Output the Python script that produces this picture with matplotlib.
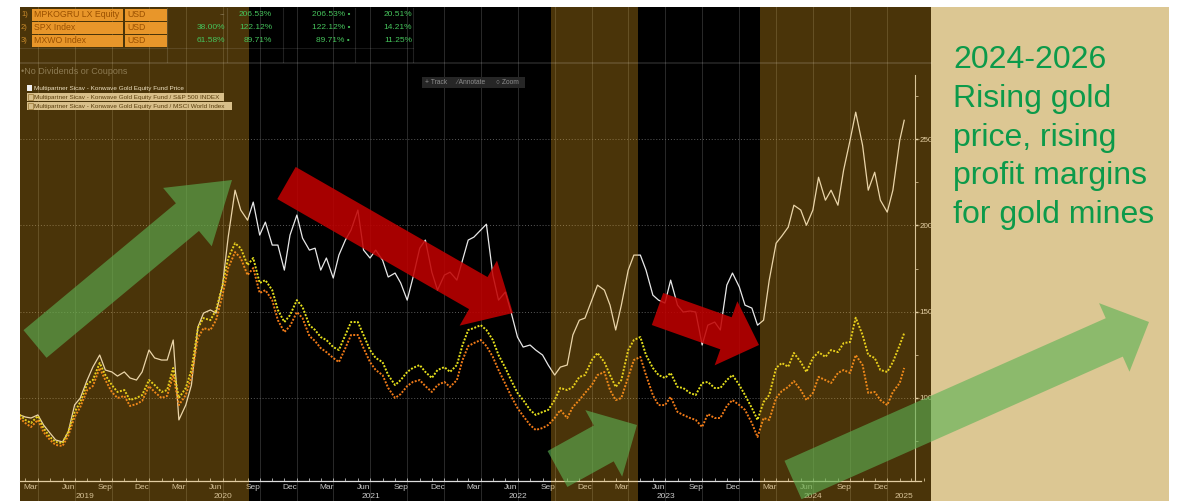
import matplotlib
matplotlib.use('Agg')
import matplotlib.pyplot as plt
import matplotlib.dates as mdates
from matplotlib.patches import Rectangle, FancyArrow
import pandas as pd

# semi-monthly sampling
dates = list(pd.date_range('2019-02-15', '2025-02-01', freq='SMS')) + [pd.Timestamp('2025-02-12')]

fund_price = [
    90.2,
    89.0, 88.4, 90.2, 84.4, 79.7, 75.7, 74.5, 80.3, 96.0, 100.0,
    110.4, 117.9, 124.9, 116.2, 115.1, 112.7, 115.1, 111.6, 110.4, 115.1,
    127.8, 123.2, 122.0, 122.0, 133.6, 87.3, 95.9, 107.5, 141.1, 149.2,
    151.0, 149.2, 165.4, 193.2, 220.4, 208.9, 203.0, 213.5, 194.4, 201.9,
    188.6, 188.6, 174.1, 194.4, 206.0, 192.6, 185.7, 186.8, 174.1, 181.1,
    169.5, 182.8, 191.5, 197.3, 208.9, 185.7, 181.1, 185.7, 179.9, 170.1,
    172.4, 166.6, 156.7, 169.5, 186.8, 191.5, 172.9, 162.5, 171.2, 172.9,
    168.3, 179.9, 191.5, 193.2, 197.3, 200.7, 171.2, 156.7, 161.4, 149.8,
    135.3, 129.5, 130.7, 127.8, 124.9, 119.1, 113.3, 117.9, 119.1, 136.5,
    145.1, 146.3, 156.7, 165.4, 162.5, 153.8, 139.4, 153.8, 174.1, 182.8,
    182.8, 174.1, 159.6, 156.7, 155.0, 168.3, 153.8, 149.8, 150.4, 149.8,
    130.7, 142.2, 144.0, 139.4, 165.4, 172.4, 164.3, 153.8, 152.1, 142.2,
    145.1, 168.3, 189.7, 193.8, 199.0, 211.7, 208.9, 200.1, 208.9, 227.9,
    214.6, 220.4, 211.7, 232.0, 249.3, 265.6, 246.4, 220.4, 230.8, 214.6,
    207.7, 220.4, 249.3, 260.9,
]

fund_vs_spx = [
    90.2,
    87.3, 85.5, 89.6, 82.6, 77.4, 74.5, 73.9, 80.3, 91.9, 97.7,
    108.1, 110.4, 120.3, 113.3, 107.5, 103.5, 104.6, 98.8, 100.0, 101.7,
    110.4, 107.5, 103.5, 104.6, 117.4, 100.0, 105.8, 116.2, 140.5, 146.3,
    145.1, 151.0, 165.4, 181.1, 189.7, 186.8, 177.0, 181.1, 166.6, 168.3,
    162.5, 151.0, 144.0, 148.0, 156.7, 152.7, 142.2, 139.4, 135.3, 133.6,
    129.5, 127.8, 136.5, 144.0, 144.0, 136.5, 127.8, 123.2, 120.8, 113.3,
    107.5, 110.4, 115.1, 117.4, 119.1, 115.1, 111.6, 116.2, 117.9, 115.1,
    119.1, 130.7, 139.4, 140.5, 142.2, 139.4, 133.6, 124.9, 117.4, 110.4,
    102.9, 98.8, 93.1, 90.2, 91.9, 93.1, 98.8, 105.8, 104.6, 106.4,
    112.2, 113.3, 122.0, 126.1, 120.8, 113.3, 106.4, 110.4, 127.8, 133.6,
    135.3, 124.9, 117.4, 113.3, 111.6, 114.5, 106.4, 105.8, 102.9, 101.7,
    108.7, 109.3, 105.8, 105.8, 110.4, 113.3, 107.5, 101.7, 94.2, 87.3,
    97.7, 101.7, 117.4, 120.3, 118.1, 126.1, 120.8, 115.1, 123.2, 126.6,
    123.8, 127.8, 126.6, 131.8, 132.4, 146.5, 136.5, 124.9, 123.2, 116.2,
    115.1, 120.8, 130.7, 137.6,
]

fund_vs_mxwo = [
    88.4,
    85.5, 83.2, 87.3, 80.3, 75.7, 72.8, 72.2, 78.0, 89.0, 94.8,
    104.6, 106.9, 117.4, 110.4, 103.5, 100.0, 101.2, 95.4, 96.5, 98.3,
    106.9, 103.5, 100.0, 101.2, 113.3, 95.9, 101.7, 112.2, 134.7, 140.5,
    139.4, 145.1, 159.6, 175.3, 184.5, 181.1, 171.2, 175.3, 160.8, 162.5,
    156.7, 145.1, 138.2, 141.7, 149.8, 146.3, 135.9, 133.0, 128.9, 126.6,
    123.2, 120.8, 128.9, 136.5, 136.5, 128.9, 120.8, 116.2, 113.3, 105.8,
    100.0, 102.3, 106.9, 109.3, 110.4, 106.9, 103.5, 107.5, 109.3, 106.4,
    110.4, 122.0, 130.1, 131.8, 133.6, 130.1, 123.8, 116.2, 108.1, 101.2,
    94.2, 89.6, 84.4, 81.5, 82.6, 84.4, 88.4, 93.1, 88.4, 94.8,
    98.8, 102.9, 107.5, 113.3, 115.1, 104.6, 98.8, 100.0, 112.2, 122.0,
    123.8, 113.3, 101.7, 95.9, 95.9, 100.6, 91.9, 90.2, 88.4, 87.3,
    83.2, 90.7, 88.4, 88.4, 95.4, 98.8, 95.9, 93.1, 85.5, 77.4,
    88.4, 87.3, 100.0, 104.0, 106.4, 109.8, 104.6, 98.8, 102.9, 112.2,
    110.4, 108.7, 114.5, 116.2, 114.5, 124.9, 119.1, 102.9, 103.5, 98.8,
    95.9, 103.5, 108.7, 117.4,
]

# highlighted periods (brown shading)
bands = [('2019-01-01', '2020-09-04'), ('2022-09-21', '2023-04-25'), ('2024-02-22', '2025-06-01')]

table_names = ['MPKOGRU LX Equity', 'SPX Index', 'MXWO Index']
table_ccy = ['USD', 'USD', 'USD']
table_col1 = ['--', '38.00%', '61.58%']
table_col2 = ['206.53%', '122.12%', '89.71%']
table_col3 = ['206.53%', '122.12%', '89.71%']
table_col4 = ['20.51%', '14.21%', '11.25%']

legend_labels = ['Multipartner Sicav - Konwave Gold Equity Fund Price',
                 'Multipartner Sicav - Konwave Gold Equity Fund / S&P 500 INDEX',
                 'Multipartner Sicav - Konwave Gold Equity Fund / MSCI World Index']

note_lines = ['2024-2026', 'Rising gold', 'price, rising', 'profit margins', 'for gold mines']

plt.rcParams['font.family'] = ['Liberation Sans', 'DejaVu Sans']

W, H = 1178, 501
fig = plt.figure(figsize=(W / 100, H / 100), dpi=100, facecolor='white')


def box(x0, y0, x1, y1):
    return [x0 / W, 1 - y1 / H, (x1 - x0) / W, (y1 - y0) / H]


ax = fig.add_axes(box(20, 7, 931, 501))
ax.set_facecolor('black')

ax.plot(dates, fund_price, color='#e8e8e8', lw=0.9, zorder=2)
ax.plot(dates, fund_vs_mxwo, color='#f07a18', lw=1.4, ls=(0, (1, 0.8)), zorder=2)
ax.plot(dates, fund_vs_spx, color='#e6e01c', lw=1.4, ls=(0, (1, 0.8)), zorder=2)

for a, b in bands:
    ax.axvspan(pd.Timestamp(a), pd.Timestamp(b), color='#f0aa1e', alpha=0.31, lw=0, zorder=3)

for d in pd.date_range('2019-04-01', '2025-01-01', freq='QS'):
    ax.axvline(d, color='#2a2a2a', lw=0.7, zorder=1)

# axis scaling
t0 = mdates.date2num(pd.Timestamp('2019-03-15'))
dpp = 30.44 / 12.3
vpp = 50 / 86.3
x_left, x_right = t0 - 11 * dpp, t0 + 890 * dpp
ax.set_xlim(x_left, t0 + 900 * dpp)
ax.set_ylim(100 - 103 * vpp, 100 + 391 * vpp)

ax.spines['left'].set_visible(False)
ax.spines['top'].set_visible(False)
ax.spines['right'].set_position(('axes', 895 / 911))
ax.spines['right'].set_bounds(52, 287)
ax.spines['right'].set_color('#cfcfcf')
ax.spines['right'].set_linewidth(0.8)
ax.spines['bottom'].set_position(('data', 52))
ax.spines['bottom'].set_bounds(x_left, x_right)
ax.spines['bottom'].set_color('#dedede')
ax.spines['bottom'].set_linewidth(0.9)

ax.yaxis.tick_right()
ax.set_yticks([100, 150, 200, 250])
ax.set_yticks([75, 125, 175, 225, 275], minor=True)
ax.grid(axis='y', which='major', color='#5c5c5c', lw=0.7, ls=(0, (1, 2)))
ax.tick_params(axis='y', which='major', length=2.5, width=1.0, color='#dddddd',
               labelsize=5.8, labelcolor='#dcdcdc', pad=1)
ax.tick_params(axis='y', which='minor', length=2, width=0.6, color='#bbbbbb')

month_ticks = pd.date_range('2019-03-01', '2024-12-01', freq='3MS') + pd.Timedelta(days=14)
ax.set_xticks(month_ticks)
ax.xaxis.set_major_formatter(mdates.DateFormatter('%b'))
ax.xaxis.set_minor_locator(mdates.MonthLocator(bymonthday=1))
ax.tick_params(axis='x', which='major', length=0, labelsize=6, labelcolor='#cacaca', pad=2.5)
ax.tick_params(axis='x', which='minor', length=2, width=0.6, color='#c4c4c4', direction='in')

for yr in range(2019, 2026):
    a = max(mdates.date2num(pd.Timestamp(f'{yr}-01-01')), x_left)
    b = min(mdates.date2num(pd.Timestamp(f'{yr + 1}-01-01')), x_right)
    ax.text((a + b) / 2, 0.009, str(yr), transform=ax.get_xaxis_transform(),
            ha='center', va='center', fontsize=6, color='#cacaca', zorder=2)

# overlay in pixel coordinates for the screenshot furniture and the annotations
ov = fig.add_axes([0, 0, 1, 1])
ov.set_xlim(0, W)
ov.set_ylim(H, 0)
ov.axis('off')

ov.add_patch(Rectangle((931, 7), 238, 494, color='#dcc793', lw=0))

for i in range(3):
    yc = 14.5 + 13 * i
    ov.add_patch(Rectangle((32, yc - 6), 91, 12.4, color='#e8962a', lw=0))
    ov.add_patch(Rectangle((124.5, yc - 6), 42.5, 12.4, color='#e8962a', lw=0))
    ov.text(21, yc, f'{i + 1})', fontsize=5.5, color='#c98a2a', va='center')
    ov.text(34, yc, table_names[i], fontsize=6.3, color='#9a5000', va='center')
    ov.text(127, yc, table_ccy[i], fontsize=6.3, color='#9a5000', va='center')
    c1 = '#8a7a5a' if table_col1[i] == '--' else '#46c45c'
    ov.text(225, yc, table_col1[i], fontsize=6, color=c1, va='center', ha='right')
    ov.text(272, yc, table_col2[i], fontsize=6, color='#46c45c', va='center', ha='right')
    ov.text(350, yc, table_col3[i] + ' \u2022', fontsize=6, color='#46c45c', va='center', ha='right')
    ov.text(412, yc, table_col4[i], fontsize=6, color='#46c45c', va='center', ha='right')

for xv in [167, 227, 283, 355, 413]:
    ov.plot([xv, xv], [8, 62], color='white', alpha=0.13, lw=0.8)
ov.plot([20, 413], [48, 48], color='white', alpha=0.10, lw=0.8)
ov.plot([20, 931], [63, 63], color='white', alpha=0.14, lw=1.2)

ov.text(21, 71, '\u2022No Dividends or Coupons', fontsize=6.5, color='#8c7a52', va='center')

leg_ends = [190, 224, 232]
for i, lab in enumerate(legend_labels):
    yc = 88 + 9 * i
    if i == 0:
        ov.add_patch(Rectangle((27, yc - 3), 5, 6, color='#f0f0f0', lw=0))
        ov.text(34, yc, lab, fontsize=4.6, color='#efe2c2', va='center')
    else:
        ov.add_patch(Rectangle((27, yc - 4.3), leg_ends[i] - 27, 8.6, color='#d8bf8a', lw=0))
        ov.add_patch(Rectangle((27.5, yc - 3), 5, 6, fill=False, ec='#a08040', lw=0.6))
        ov.text(34, yc, lab, fontsize=4.6, color='#5a3e0c', va='center')

ov.add_patch(Rectangle((422, 77), 103, 11, color='#262626', lw=0))
ov.text(425, 82.5, '+ Track', fontsize=4.8, color='#8f8f8f', va='center')
ov.text(456, 82.5, '\u2215 Annotate', fontsize=4.8, color='#8f8f8f', va='center')
ov.text(496, 82.5, '\u25cb Zoom', fontsize=4.8, color='#8f8f8f', va='center')


def arrow(tail, tip, width, head_w, head_l, color, alpha):
    ov.add_patch(FancyArrow(tail[0], tail[1], tip[0] - tail[0], tip[1] - tail[1],
                            width=width, head_width=head_w, head_length=head_l,
                            length_includes_head=True, color=color, alpha=alpha, lw=0))


green, red = '#5cb254', '#c00000'
arrow((35, 344), (232, 180), 36, 76, 58, green, 0.62)
arrow((286.5, 183), (513, 313), 37, 75, 40, red, 0.87)
arrow((557.5, 469), (637, 425), 41, 76, 38, green, 0.62)
arrow((657.5, 309), (759, 345), 34, 68, 35, red, 0.87)
arrow((793, 480), (1149, 322), 42, 75, 38, green, 0.62)

for i, line in enumerate(note_lines):
    ov.text(953, 68 + 38.8 * i, line, fontsize=23, color='#0c9a4a',
            family='Liberation Sans', va='baseline', ha='left')

fig.savefig('out.png', dpi=100, facecolor='white')
